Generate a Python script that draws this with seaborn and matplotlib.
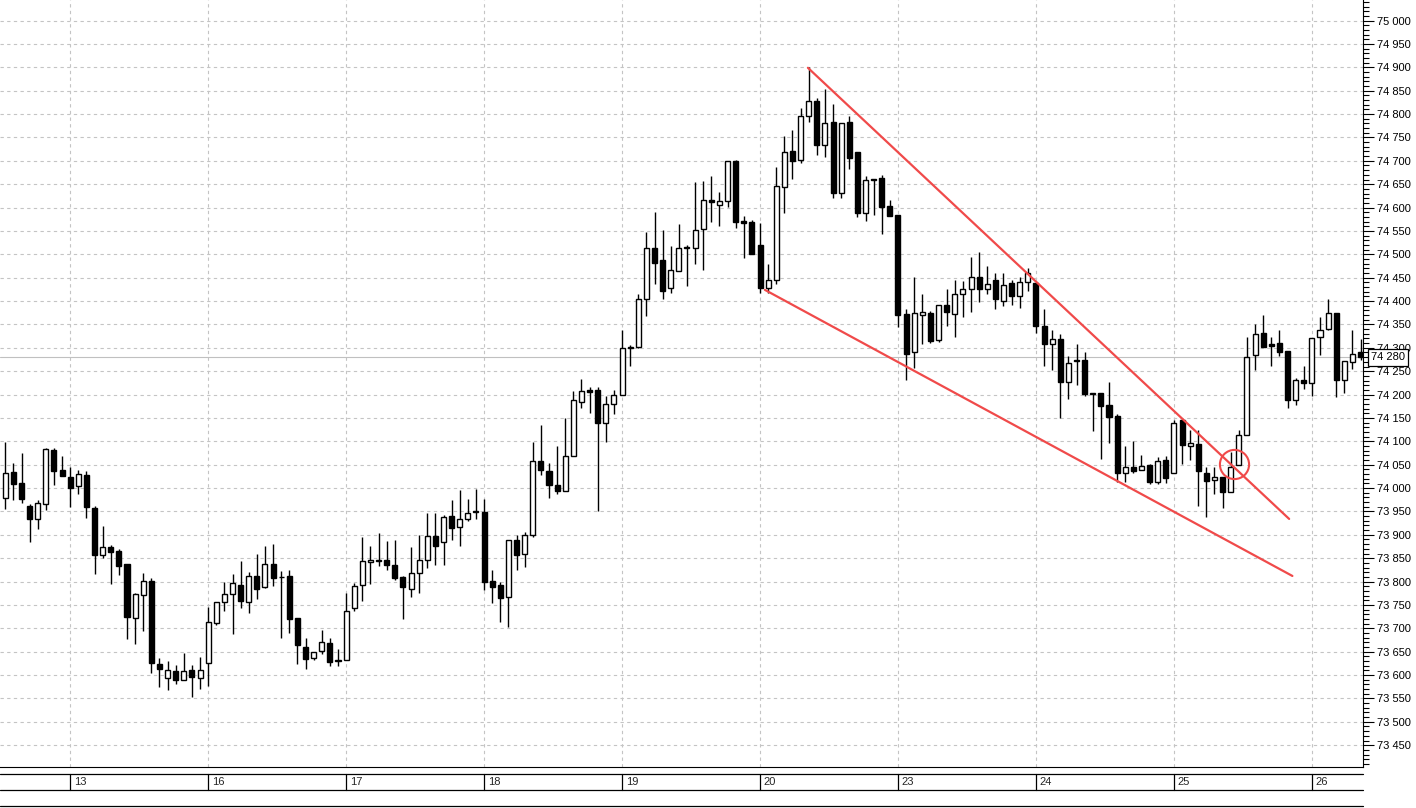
import numpy as np
import pandas as pd
import matplotlib
matplotlib.use("Agg")
import matplotlib.pyplot as plt
import seaborn as sns
from matplotlib.ticker import MultipleLocator, FuncFormatter

# hourly candles
opens = [73.979, 74.034, 74.011, 73.961, 73.934, 73.966, 74.082, 74.039, 74.024, 74.004,
         74.029, 73.957, 73.857, 73.875, 73.866, 73.837, 73.722, 73.771, 73.801, 73.623,
         73.593, 73.609, 73.589, 73.611, 73.594, 73.626, 73.711, 73.756, 73.774, 73.793,
         73.756, 73.811, 73.788, 73.838, 73.809, 73.811, 73.722, 73.660, 73.637, 73.652,
         73.669, 73.631, 73.632, 73.744, 73.793, 73.842, 73.846, 73.847, 73.836, 73.810,
         73.784, 73.819, 73.846, 73.898, 73.884, 73.941, 73.916, 73.933, 73.949, 73.949,
         73.802, 73.792, 73.767, 73.888, 73.860, 73.899, 74.058, 74.037, 74.007, 73.994,
         74.069, 74.184, 74.210, 74.209, 74.140, 74.180, 74.200, 74.302, 74.302, 74.405,
         74.514, 74.487, 74.429, 74.464, 74.514, 74.514, 74.554, 74.617, 74.606, 74.615,
         74.700, 74.571, 74.569, 74.521, 74.429, 74.446, 74.645, 74.722, 74.702, 74.795,
         74.829, 74.734, 74.782, 74.632, 74.782, 74.719, 74.589, 74.661, 74.663, 74.604,
         74.584, 74.372, 74.290, 74.371, 74.374, 74.317, 74.391, 74.372, 74.416, 74.426,
         74.452, 74.425, 74.444, 74.401, 74.438, 74.411, 74.440, 74.438, 74.346, 74.308,
         74.318, 74.226, 74.273, 74.275, 74.202, 74.204, 74.177, 74.154, 74.033, 74.044,
         74.038, 74.049, 74.014, 74.059, 74.033, 74.145, 74.090, 74.095, 74.033, 74.018,
         74.024, 73.992, 74.050, 74.114, 74.284, 74.331, 74.309, 74.311, 74.293, 74.189,
         74.231, 74.224, 74.324, 74.341, 74.375, 74.232, 74.269, 74.292]
highs = [74.098, 74.054, 74.074, 73.966, 73.974, 74.086, 74.086, 74.069, 74.046, 74.039,
         74.037, 73.961, 73.919, 73.879, 73.869, 73.837, 73.775, 73.818, 73.808, 73.636,
         73.630, 73.622, 73.648, 73.622, 73.639, 73.746, 73.757, 73.799, 73.816, 73.845,
         73.820, 73.858, 73.876, 73.881, 73.822, 73.824, 73.722, 73.679, 73.649, 73.697,
         73.679, 73.656, 73.776, 73.797, 73.896, 73.877, 73.904, 73.886, 73.888, 73.812,
         73.874, 73.899, 73.946, 73.946, 73.943, 73.974, 73.995, 73.977, 73.999, 73.977,
         73.824, 73.799, 73.889, 73.900, 73.907, 74.099, 74.134, 74.054, 74.091, 74.150,
         74.207, 74.234, 74.216, 74.217, 74.198, 74.210, 74.339, 74.307, 74.416, 74.548,
         74.590, 74.553, 74.517, 74.564, 74.521, 74.655, 74.656, 74.667, 74.633, 74.699,
         74.701, 74.583, 74.573, 74.567, 74.480, 74.686, 74.754, 74.765, 74.813, 74.901,
         74.834, 74.854, 74.821, 74.781, 74.796, 74.719, 74.667, 74.662, 74.670, 74.617,
         74.584, 74.382, 74.451, 74.415, 74.379, 74.391, 74.425, 74.446, 74.443, 74.494,
         74.504, 74.475, 74.459, 74.459, 74.446, 74.451, 74.470, 74.438, 74.382, 74.339,
         74.329, 74.282, 74.308, 74.290, 74.204, 74.204, 74.227, 74.159, 74.089, 74.100,
         74.070, 74.051, 74.067, 74.068, 74.145, 74.147, 74.124, 74.124, 74.045, 74.045,
         74.024, 74.077, 74.125, 74.324, 74.352, 74.370, 74.324, 74.339, 74.293, 74.236,
         74.261, 74.320, 74.366, 74.404, 74.375, 74.271, 74.339, 74.319]
lows = [73.956, 73.975, 73.968, 73.884, 73.912, 73.954, 74.006, 74.025, 73.959, 73.987,
        73.936, 73.816, 73.851, 73.794, 73.813, 73.677, 73.666, 73.695, 73.605, 73.575,
        73.569, 73.581, 73.589, 73.554, 73.570, 73.576, 73.707, 73.736, 73.688, 73.743,
        73.733, 73.762, 73.787, 73.791, 73.679, 73.691, 73.624, 73.612, 73.632, 73.645,
        73.619, 73.619, 73.632, 73.737, 73.758, 73.794, 73.834, 73.824, 73.804, 73.721,
        73.767, 73.775, 73.829, 73.835, 73.835, 73.888, 73.877, 73.929, 73.933, 73.781,
        73.754, 73.713, 73.702, 73.825, 73.831, 73.895, 74.029, 73.979, 73.988, 73.994,
        74.069, 74.171, 74.161, 73.951, 74.099, 74.159, 74.200, 74.261, 74.299, 74.368,
        74.437, 74.404, 74.417, 74.464, 74.432, 74.480, 74.467, 74.569, 74.561, 74.601,
        74.557, 74.492, 74.500, 74.417, 74.417, 74.437, 74.588, 74.662, 74.695, 74.784,
        74.713, 74.708, 74.620, 74.620, 74.682, 74.579, 74.572, 74.584, 74.543, 74.583,
        74.344, 74.232, 74.256, 74.309, 74.311, 74.312, 74.346, 74.324, 74.366, 74.377,
        74.399, 74.415, 74.384, 74.390, 74.391, 74.386, 74.422, 74.331, 74.261, 74.252,
        74.150, 74.190, 74.220, 74.197, 74.122, 74.063, 74.096, 74.013, 74.013, 74.032,
        74.038, 74.009, 74.008, 74.011, 74.033, 74.051, 74.059, 73.961, 73.939, 73.987,
        73.957, 73.992, 74.050, 74.114, 74.252, 74.302, 74.261, 74.283, 74.172, 74.177,
        74.212, 74.197, 74.284, 74.338, 74.195, 74.204, 74.254, 74.274]
closes = [74.032, 74.009, 73.976, 73.934, 73.969, 74.084, 74.036, 74.025, 74.001, 74.030,
          73.959, 73.856, 73.874, 73.864, 73.834, 73.725, 73.774, 73.801, 73.625, 73.614,
          73.611, 73.589, 73.609, 73.595, 73.611, 73.714, 73.757, 73.774, 73.796, 73.758,
          73.812, 73.784, 73.838, 73.808, 73.809, 73.721, 73.664, 73.634, 73.649, 73.671,
          73.629, 73.631, 73.738, 73.791, 73.843, 73.846, 73.843, 73.835, 73.807, 73.788,
          73.819, 73.846, 73.898, 73.876, 73.939, 73.914, 73.934, 73.947, 73.949, 73.799,
          73.789, 73.764, 73.889, 73.857, 73.900, 74.058, 74.039, 74.007, 73.994, 74.069,
          74.189, 74.208, 74.205, 74.139, 74.180, 74.200, 74.300, 74.299, 74.405, 74.514,
          74.482, 74.422, 74.466, 74.514, 74.514, 74.553, 74.617, 74.612, 74.615, 74.699,
          74.569, 74.567, 74.500, 74.427, 74.446, 74.646, 74.719, 74.699, 74.795, 74.827,
          74.734, 74.781, 74.632, 74.781, 74.707, 74.589, 74.659, 74.659, 74.602, 74.583,
          74.370, 74.287, 74.374, 74.376, 74.315, 74.391, 74.376, 74.416, 74.426, 74.452,
          74.426, 74.436, 74.404, 74.434, 74.411, 74.440, 74.461, 74.347, 74.309, 74.319,
          74.226, 74.268, 74.271, 74.202, 74.202, 74.176, 74.152, 74.032, 74.044, 74.037,
          74.048, 74.014, 74.058, 74.022, 74.140, 74.093, 74.097, 74.036, 74.015, 74.024,
          73.992, 74.045, 74.114, 74.281, 74.329, 74.302, 74.304, 74.291, 74.189, 74.231,
          74.224, 74.320, 74.338, 74.375, 74.232, 74.271, 74.286, 74.280]

day_labels = ["13", "16", "17", "18", "19", "20", "23", "24", "25", "26"]
day_start = [8, 25, 42, 59, 76, 93, 110, 127, 144, 161]

# wedge lines (candle index, price) and the breakout mark
upper_line = ([98.9, 158.2], [74.899, 73.934])
lower_line = ([93.6, 158.6], [74.424, 73.812])
breakout = (151.4, 74.052)
last_price = 74.280

W, H = 1416, 808
RED = "#f04a4a"

sns.set_style("white")
plt.rcParams["font.family"] = ["Liberation Sans", "DejaVu Sans"]

df = pd.DataFrame({"o": opens, "h": highs, "l": lows, "c": closes})
df["x"] = np.arange(len(df))
up = df["c"] >= df["o"]

fig = plt.figure(figsize=(W / 100, H / 100), dpi=100)
plot_bottom = 766.7
plot_right = 1363
ax = fig.add_axes([0, 1 - plot_bottom / H, plot_right / W, plot_bottom / H])

# grid
for v in np.arange(73.45, 75.0001, 0.05):
    ax.axhline(v, color="#c4c4c4", lw=0.8, ls=(0, (3, 3)), zorder=0)
for d in day_start:
    ax.axvline(d, color="#c4c4c4", lw=0.8, ls=(0, (3, 3)), zorder=0)
ax.axhline(last_price, color="#c0c0c0", lw=0.8, zorder=0)

# candles
ax.vlines(df["x"], df["l"], df["h"], color="black", lw=1.0, zorder=2)
body_lo = np.minimum(df["o"], df["c"])
body_h = np.maximum(np.abs(df["c"] - df["o"]), 0.0012)
ax.bar(df["x"], body_h, bottom=body_lo, width=0.62,
       color=np.where(up, "white", "black"), edgecolor="black", linewidth=1.0, zorder=3)

# wedge
lines = pd.DataFrame({
    "x": upper_line[0] + lower_line[0],
    "y": upper_line[1] + lower_line[1],
    "line": ["upper", "upper", "lower", "lower"],
})
sns.lineplot(data=lines, x="x", y="y", units="line", estimator=None, sort=False,
             color=RED, lw=1.6, ax=ax, zorder=4)
ax.plot(*breakout, marker="o", ms=21, mfc="none", mec=RED, mew=1.5, zorder=5)

ax.set_xlim(-0.65, 167.3)
ax.set_ylim(73.404, 75.044)
ax.set_xlabel("")
ax.set_ylabel("")
ax.set_xticks([])
ax.yaxis.tick_right()
ax.yaxis.set_major_locator(MultipleLocator(0.05))
ax.yaxis.set_minor_locator(MultipleLocator(0.01))
ax.yaxis.set_major_formatter(FuncFormatter(lambda v, p: f"{v:.3f}".replace(".", " ")))
ax.tick_params(axis="y", which="major", length=8, width=0.8, labelsize=8, pad=2, colors="black")
ax.tick_params(axis="y", which="minor", length=4, width=0.8, colors="black")
for s in ["top", "left"]:
    ax.spines[s].set_visible(False)
for s in ["right", "bottom"]:
    ax.spines[s].set_color("black")
    ax.spines[s].set_linewidth(0.8)

# current price box on the axis
ax.text(1.0 + 8 / plot_right, last_price, "74 280", transform=ax.get_yaxis_transform(),
        ha="left", va="center", fontsize=8, color="black",
        bbox=dict(boxstyle="square,pad=0.3", fc="white", ec="black", lw=0.9),
        clip_on=False, zorder=10)

# date strip
ax2 = fig.add_axes([0, 1 - 806 / H, plot_right / W, (806 - plot_bottom) / H])
ax2.set_xlim(ax.get_xlim())
ax2.set_ylim(806, plot_bottom)
ax2.axis("off")
for yy in [774.3, 790, 805.5]:
    ax2.axhline(yy, color="black", lw=0.9, clip_on=False)
for d, lab in zip(day_start, day_labels):
    ax2.plot([d, d], [774.3, 790], color="black", lw=0.9)
    ax2.text(d + 0.45, 782.3, lab, ha="left", va="center", fontsize=8)

fig.savefig("out.png", dpi=100)
